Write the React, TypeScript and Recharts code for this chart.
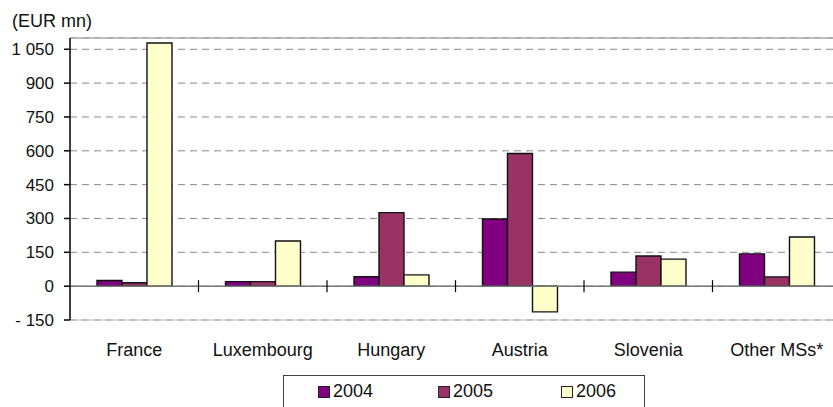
import { BarChart, Bar, XAxis, YAxis, CartesianGrid, ReferenceLine } from "recharts";

const countries = ["France", "Luxembourg", "Hungary", "Austria", "Slovenia", "Other MSs*"];
const v2004 = [25, 20, 42, 298, 62, 143];
const v2005 = [15, 20, 326, 588, 134, 41];
const v2006 = [1078, 200, 50, -114, 120, 218];
const yTicks = [-150, 0, 150, 300, 450, 600, 750, 900, 1050];

const series = [
    { key: "y2004", label: "2004", color: "#800080" },
    { key: "y2005", label: "2005", color: "#993366" },
    { key: "y2006", label: "2006", color: "#FFFFCC" },
];

const data = countries.map((name, i) => ({
    name,
    y2004: v2004[i],
    y2005: v2005[i],
    y2006: v2006[i],
}));

const FONT = "'Liberation Sans', Arial, sans-serif";
const INK = "#111";

const fmt = (v: number) => {
    if (v < 0) return `- ${Math.abs(v)}`;
    if (v >= 1000) return `${Math.floor(v / 1000)} ${String(v % 1000).padStart(3, "0")}`;
    return `${v}`;
};

// zero line with category-boundary tick marks
const ZeroLine = (props: any) => {
    const { x1, y1, x2, y2 } = props;
    const step = (x2 - x1) / countries.length;
    const marks = countries.slice(1).map((_, i) => x1 + step * (i + 1));
    return (
        <g>
            <line x1={x1} y1={y1} x2={x2} y2={y2} stroke="#777" strokeWidth={1.5} />
            {marks.map((mx) => (
                <line key={mx} x1={mx} x2={mx} y1={y1 - 6} y2={y1 + 6} stroke="#000" strokeWidth={1.2} />
            ))}
        </g>
    );
};

const XTick = ({ x, y, payload }: any) => (
    <text x={x} y={y + 28} textAnchor="middle" fontSize={18} fontFamily={FONT} fill={INK}>
        {payload.value}
    </text>
);

const YTick = ({ x, y, payload }: any) => (
    <text x={x} y={y + 6} textAnchor="end" fontSize={17} fontFamily={FONT} fill={INK}>
        {fmt(payload.value)}
    </text>
);

export default function App() {
    return (
        <div style={{ position: "absolute", left: 0, top: 0, width: 833, height: 407, overflow: "hidden", background: "#fff" }}>
            <div style={{ position: "absolute", left: 12, top: 11, fontSize: 18, fontFamily: FONT, color: INK }}>
                (EUR mn)
            </div>
            <BarChart
                width={850}
                height={407}
                data={data}
                margin={{ top: 38, right: 9, left: 0, bottom: 47 }}
                barCategoryGap="21%"
                barGap={0}
            >
                <CartesianGrid vertical={false} stroke="#888" strokeDasharray="7 5" />
                <ReferenceLine y={1100} stroke="#aaa" strokeWidth={1.5} />
                <ReferenceLine y={-150} stroke="#bbb" strokeWidth={1} />
                <XAxis dataKey="name" height={40} axisLine={false} tickLine={false} tick={<XTick />} interval={0} />
                <YAxis
                    width={70}
                    domain={[-150, 1100]}
                    ticks={yTicks}
                    interval={0}
                    axisLine={{ stroke: "#000", strokeWidth: 1.5 }}
                    tickLine={{ stroke: "#000", strokeWidth: 1.5 }}
                    tickSize={6}
                    tickMargin={10}
                    tick={<YTick />}
                />
                {series.map((s) => (
                    <Bar key={s.key} dataKey={s.key} fill={s.color} stroke="#111" strokeWidth={1.4} isAnimationActive={false} />
                ))}
                <ReferenceLine y={0} shape={<ZeroLine />} />
            </BarChart>
            <div
                style={{
                    position: "absolute",
                    left: 283,
                    top: 375,
                    width: 362,
                    height: 40,
                    border: "1px solid #444",
                    boxSizing: "border-box",
                    fontFamily: FONT,
                    fontSize: 18,
                    color: INK,
                }}
            >
                {series.map((s, i) => (
                    <div key={s.key} style={{ position: "absolute", left: [34, 154, 277][i], top: 5, display: "flex", alignItems: "center" }}>
                        <span style={{ width: 10, height: 10, background: s.color, border: "1px solid #222", marginRight: 3, display: "inline-block" }} />
                        <span>{s.label}</span>
                    </div>
                ))}
            </div>
        </div>
    );
}
